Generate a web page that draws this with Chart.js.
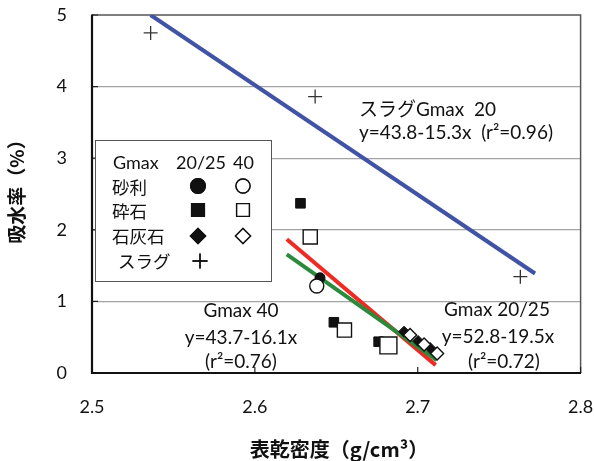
<!DOCTYPE html>
<html><head><meta charset="utf-8">
<script src="https://cdn.jsdelivr.net/npm/chart.js@4/dist/chart.umd.min.js"></script>
<style>html,body{margin:0;padding:0;background:#fff}</style>
</head><body>
<canvas id="c" width="594" height="461"></canvas>
<script>
// 表乾密度 (g/cm3) 軸と吸水率 (%) 軸の目盛
const xTickLabels = ['2.5', '2.6', '2.7', '2.8'];
const yTickLabels = ['0', '1', '2', '3', '4', '5'];

// 砂利
const gravel20 = [{x: 2.640, y: 1.33}];
const gravel40 = [{x: 2.638, y: 1.215}];
// 砕石
const crushed20 = [{x: 2.628, y: 2.37}, {x: 2.6485, y: 0.708}, {x: 2.676, y: 0.437}];
const crushed40 = [{x: 2.634, y: 1.90}, {x: 2.655, y: 0.60}, {x: 2.682, y: 0.385}];
// 石灰石
const lime20 = [{x: 2.6916, y: 0.577}, {x: 2.7002, y: 0.447}, {x: 2.7076, y: 0.349}];
const lime40 = [{x: 2.6953, y: 0.53}, {x: 2.7039, y: 0.398}, {x: 2.7119, y: 0.272}];
// スラグ
const slag = [{x: 2.536, y: 4.75}, {x: 2.637, y: 3.86}, {x: 2.763, y: 1.345}];

// 回帰直線の端点
const slagFit = [{x: 2.536, y: 5.0}, {x: 2.772, y: 1.39}];
const fit2025 = [{x: 2.6196, y: 1.867}, {x: 2.711, y: 0.11}];
const fit40 = [{x: 2.6196, y: 1.658}, {x: 2.7117, y: 0.18}];

const LAT = 'Lato, "Noto Sans CJK JP", sans-serif';
const JP = '"Noto Sans CJK JP", sans-serif';

function lineSet(data, color, order) {
  return {data, showLine: true, borderColor: color, borderWidth: 4, pointRadius: 0,
          fill: false, order, borderCapStyle: 'butt'};
}
function markSet(data, style, radius, filled, order, extra) {
  return Object.assign({data, showLine: false, pointStyle: style, pointRadius: radius,
          pointHoverRadius: radius,
          backgroundColor: filled ? '#111' : '#fff', borderColor: '#111',
          borderWidth: filled ? 1 : 1.4, order}, extra || {});
}

function drawMarker(ctx, style, x, y, r, filled) {
  ctx.save();
  ctx.fillStyle = filled ? '#111' : '#fff';
  ctx.strokeStyle = '#111';
  ctx.lineWidth = 1.4;
  Chart.helpers.drawPoint(ctx, {pointStyle: style, radius: r, rotation: 0, borderWidth: 1.4}, x, y);
  if (style !== 'cross') ctx.fill();
  ctx.stroke();
  ctx.restore();
}

const framePlugin = {
  id: 'frame',
  beforeDatasetsDraw(chart) {
    const {ctx, chartArea: a, scales} = chart;
    ctx.save();
    ctx.strokeStyle = '#555';
    ctx.lineWidth = 1.5;
    ctx.beginPath();
    ctx.moveTo(a.left, a.top); ctx.lineTo(a.right, a.top); ctx.lineTo(a.right, a.bottom);
    ctx.stroke();
    // 内向きの目盛線
    ctx.strokeStyle = '#222';
    ctx.lineWidth = 1.2;
    ctx.beginPath();
    xTickLabels.forEach(t => {
      const px = scales.x.getPixelForValue(parseFloat(t));
      ctx.moveTo(px, a.bottom); ctx.lineTo(px, a.bottom - 6);
    });
    yTickLabels.forEach(t => {
      const py = scales.y.getPixelForValue(parseFloat(t));
      ctx.moveTo(a.left, py); ctx.lineTo(a.left + 6, py);
    });
    ctx.stroke();
    ctx.strokeStyle = '#111';
    ctx.lineWidth = 2.2;
    ctx.beginPath();
    ctx.moveTo(a.left, a.top - 0.5); ctx.lineTo(a.left, a.bottom); ctx.lineTo(a.right + 0.5, a.bottom);
    ctx.stroke();
    ctx.restore();
  },
  afterDraw(chart) {
    const ctx = chart.ctx;
    ctx.save();
    // 軸タイトル
    ctx.fillStyle = '#111';
    ctx.textAlign = 'center';
    ctx.textBaseline = 'middle';
    ctx.font = 'bold 20px ' + JP;
    ctx.fillText('表乾密度（g/cm³）', 339, 449);
    ctx.font = 'bold 19px ' + JP;
    ctx.save();
    ctx.translate(17, 187);
    ctx.rotate(-Math.PI / 2);
    ctx.fillText('吸水率（%）', 0, 0);
    ctx.restore();

    // 凡例
    ctx.fillStyle = '#fff';
    ctx.fillRect(95, 140, 177, 142);
    ctx.strokeStyle = '#555';
    ctx.lineWidth = 1;
    ctx.strokeRect(95.5, 140.5, 176, 141);
    ctx.fillStyle = '#111';
    ctx.font = '18px ' + LAT;
    ctx.textAlign = 'left';
    ctx.fillText('Gmax', 113, 163);
    ctx.fillText('20/25', 176, 163);
    ctx.fillText('40', 233, 163);
    ctx.font = '17.5px ' + JP;
    ctx.fillText('砂利', 112, 187);
    ctx.fillText('砕石', 112, 211);
    ctx.fillText('石灰石', 112, 236);
    ctx.fillText('スラグ', 118, 261);
    drawMarker(ctx, 'circle', 198, 186, 7.3, true);
    drawMarker(ctx, 'circle', 243, 186, 7, false);
    drawMarker(ctx, 'rect', 198, 210, 9, true);
    drawMarker(ctx, 'rect', 243, 210, 9, false);
    drawMarker(ctx, 'rectRot', 198, 236, 7.5, true);
    drawMarker(ctx, 'rectRot', 243, 236, 7.5, false);
    drawMarker(ctx, 'cross', 200, 261, 7.5, false);

    // 回帰式の注記
    ctx.fillStyle = '#111';
    ctx.font = '19px ' + LAT;
    ctx.textAlign = 'left';
    ctx.fillText('スラグGmax  20', 359, 110);
    ctx.fillText('y=43.8-15.3x  (r²=0.96)', 359, 133);
    ctx.textAlign = 'center';
    ctx.fillText('Gmax 40', 241, 311);
    ctx.fillText('y=43.7-16.1x', 241, 338);
    ctx.fillText('(r²=0.76)', 241, 362);
    ctx.fillText('Gmax 20/25', 497, 310);
    ctx.fillText('y=52.8-19.5x', 498, 337);
    ctx.fillText('(r²=0.72)', 504, 362);
    ctx.restore();
  }
};

new Chart(document.getElementById('c'), {
  type: 'scatter',
  data: {
    datasets: [
      lineSet(slagFit, '#4153a5', 30),
      lineSet(fit2025, '#ec2b24', 29),
      lineSet(fit40, '#2b8a3c', 28),
      markSet(gravel20, 'circle', 5, true, 8),
      markSet(crushed20, 'rect', 6.8, true, 7),
      markSet(lime20, 'rectRot', 5.5, true, 6),
      markSet(gravel40, 'circle', 7, false, 5),
      markSet(crushed40, 'rect', 10, false, 4,
        {pointRadius: c => c.dataIndex === 2 ? 12 : 10}),
      markSet(lime40, 'rectRot', 6.5, false, 3),
      markSet(slag, 'cross', 7, false, 2, {borderColor: '#333', borderWidth: 1.3})
    ]
  },
  options: {
    responsive: false,
    animation: false,
    events: [],
    layout: {padding: {top: 15, right: 13, left: 0, bottom: 0}},
    plugins: {legend: {display: false}, tooltip: {enabled: false}},
    scales: {
      x: {
        type: 'linear', min: 2.5, max: 2.8,
        afterFit: s => { s.height = 88; s.paddingLeft = 0; s.paddingRight = 0; },
        afterBuildTicks: s => { s.ticks = xTickLabels.map(v => ({value: parseFloat(v)})); },
        ticks: {padding: 23, color: '#111', font: {family: LAT, size: 18},
                callback: (v, i) => xTickLabels[i]},
        grid: {display: false, drawTicks: false},
        border: {display: false}
      },
      y: {
        type: 'linear', min: 0, max: 5,
        afterFit: s => { s.width = 92; s.paddingTop = 0; s.paddingBottom = 0; },
        afterBuildTicks: s => { s.ticks = yTickLabels.map(v => ({value: parseFloat(v)})); },
        ticks: {padding: 25, color: '#111', font: {family: LAT, size: 18},
                callback: (v, i) => yTickLabels[i]},
        grid: {drawTicks: false, lineWidth: 1.3,
               color: c => (c.tick && (c.tick.value === 0 || c.tick.value === 5)) ? 'rgba(0,0,0,0)' : '#a3a3a3'},
        border: {display: false}
      }
    }
  },
  plugins: [framePlugin]
});
</script>
</body></html>
